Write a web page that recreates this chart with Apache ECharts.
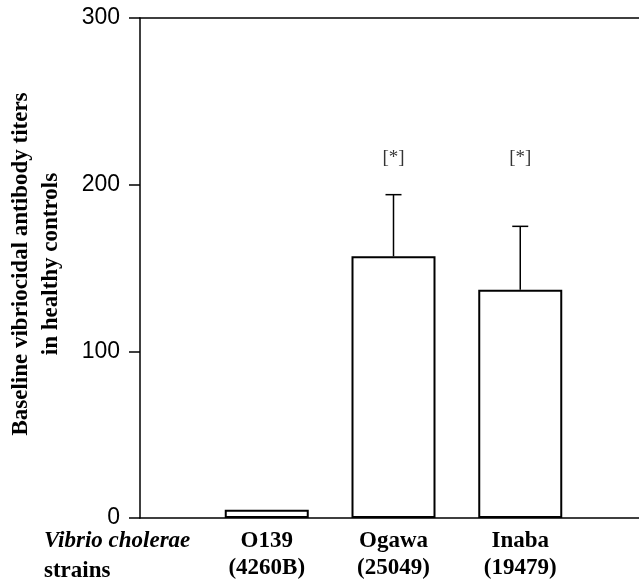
<!DOCTYPE html>
<html>
<head>
<meta charset="utf-8">
<script src="https://cdn.jsdelivr.net/npm/echarts@6/dist/echarts.min.js"></script>
<style>
html,body{margin:0;padding:0;background:#fff;}
#chart{width:639px;height:584px;}
</style>
</head>
<body>
<div id="chart"></div>
<script>
// ---- data ----
const strainNames = ['O139', 'Ogawa', 'Inaba'];
const strainCodes = ['(4260B)', '(25049)', '(19479)'];
const strainPos = [1, 2, 3];
const meanTiters = [5, 157, 137];
const upperErrors = [null, 194, 175];
const significance = ['', '[*]', '[*]'];
const yTicks = [0, 100, 200, 300];
const yTitle = ['Baseline vibriocidal antibody titers', 'in healthy controls'];
const xTitle = ['Vibrio cholerae', 'strains'];

const serif = '"Liberation Serif", "Times New Roman", serif';
const sans = '"Liberation Sans", Arial, sans-serif';

const barData = strainPos.map((p, i) => [p, meanTiters[i]]);
const errData = [];
strainPos.forEach((p, i) => { if (upperErrors[i] != null) errData.push([p, meanTiters[i], upperErrors[i]]); });
const starData = [];
strainPos.forEach((p, i) => { if (significance[i]) starData.push({ value: [p, 216], label: significance[i] }); });

const chart = echarts.init(document.getElementById('chart'), null, { renderer: 'canvas' });
chart.setOption({
  animation: false,
  backgroundColor: '#fff',
  grid: { left: 140, right: -8, top: 18, bottom: 66, containLabel: false, outerBoundsMode: 'none' },
  xAxis: [{
    type: 'value', min: 0, max: 4, interval: 1,
    axisLine: { show: true, lineStyle: { color: '#000', width: 1.5 } },
    axisTick: { show: false },
    splitLine: { show: false },
    axisLabel: {
      margin: 10,
      lineHeight: 27,
      fontFamily: serif, fontWeight: 'bold', fontSize: 23, color: '#000',
      formatter: function (v) {
        const i = strainPos.indexOf(v);
        return i >= 0 ? strainNames[i] + '\n' + strainCodes[i] : '';
      }
    }
  }, {
    type: 'value', min: 0, max: 4, position: 'top',
    axisLine: { show: true, onZero: false, lineStyle: { color: '#000', width: 1.5 } },
    axisTick: { show: false }, axisLabel: { show: false }, splitLine: { show: false }
  }],
  yAxis: {
    type: 'value', min: yTicks[0], max: yTicks[yTicks.length - 1], interval: 100,
    axisLine: { show: true, lineStyle: { color: '#000', width: 1.5 } },
    axisTick: { show: true, inside: false, length: 11, lineStyle: { color: '#000', width: 1.5 } },
    splitLine: { show: false },
    axisLabel: { margin: 20, fontFamily: sans, fontSize: 23, color: '#000' }
  },
  series: [{
    type: 'bar',
    data: barData,
    barWidth: 84,
    itemStyle: { color: '#fff', borderColor: '#000', borderWidth: 2 },
    z: 2
  }, {
    type: 'custom',
    data: errData,
    z: 3,
    renderItem: function (params, api) {
      const x = api.value(0);
      const base = api.coord([x, api.value(1)]);
      const top = api.coord([x, api.value(2)]);
      const hw = 8;
      return {
        type: 'group',
        children: [
          { type: 'line', shape: { x1: base[0], y1: base[1], x2: top[0], y2: top[1] }, style: { stroke: '#000', lineWidth: 1.5 } },
          { type: 'line', shape: { x1: top[0] - hw, y1: top[1], x2: top[0] + hw, y2: top[1] }, style: { stroke: '#000', lineWidth: 1.5 } }
        ]
      };
    }
  }, {
    type: 'scatter',
    data: starData.map(d => ({ value: d.value, name: d.label })),
    symbolSize: 0,
    label: {
      show: true, position: 'inside',
      formatter: p => p.name,
      fontFamily: serif, fontSize: 19, color: '#000'
    }
  }],
  graphic: [{
    type: 'text',
    x: 36, y: 264,
    rotation: Math.PI / 2,
    style: {
      text: yTitle.join('\n'),
      align: 'center', verticalAlign: 'middle',
      fontFamily: serif, fontWeight: 'bold', fontSize: 23, lineHeight: 30, fill: '#000'
    }
  }, {
    type: 'text',
    left: 44, top: 530,
    style: {
      text: '{i|' + xTitle[0] + '}\n{b|' + xTitle[1] + '}',
      rich: {
        i: { fontFamily: serif, fontStyle: 'italic', fontWeight: 'bold', fontSize: 23, lineHeight: 30, fill: '#000' },
        b: { fontFamily: serif, fontWeight: 'bold', fontSize: 23, lineHeight: 30, fill: '#000' }
      }
    }
  }]
});
</script>
</body>
</html>
